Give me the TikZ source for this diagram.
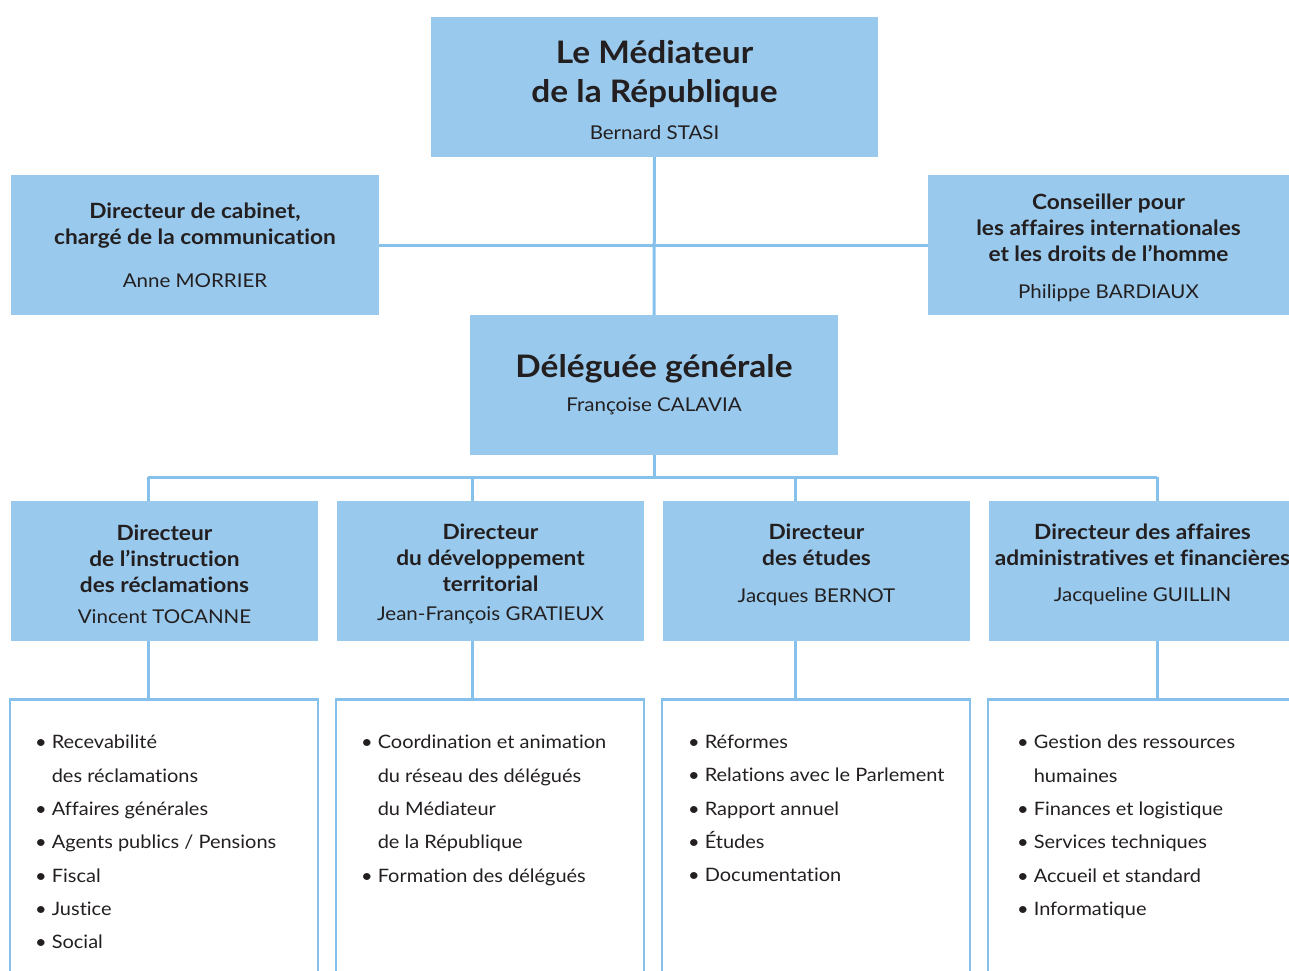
\documentclass[tikz,border=0pt]{standalone}
\usepackage{fontspec}
\setmainfont{Lato}[FakeStretch=1.08, Ligatures=CommonOff]
\definecolor{boxblue}{RGB}{153,202,237}
\definecolor{lineblue}{RGB}{134,193,236}
\definecolor{inkgrey}{RGB}{35,31,32}
\newcommand{\bigtitlefont}{\bfseries\fontsize{31}{39}\selectfont}
\newcommand{\titlefont}{\bfseries\fontsize{21}{26}\selectfont}
\newcommand{\namefont}{\mdseries\fontsize{19}{26}\selectfont}
\newcommand{\listfont}{\fontsize{18.5}{33.3}\selectfont}
\newcommand{\bul}{\textbullet\hspace{5pt}}
\newcommand{\cont}{\hphantom{\textbullet\hspace{5pt}}}
\newcommand{\lift}{\rule{0pt}{22pt}}

\begin{document}
\begin{tikzpicture}[x=1pt, y=-1pt,
		bluebox/.style={fill=boxblue, inner sep=0pt, align=center, text=inkgrey, minimum height=140pt},
		listbox/.style={draw=lineblue, line width=2.5pt, minimum width=308pt, minimum height=320pt, anchor=north, inner sep=0pt},
		listtext/.style={anchor=north west, align=left, text=inkgrey, inner sep=0pt, font=\listfont},
		link/.style={draw=lineblue, line width=3pt}]
			\clip (0,0) rectangle (1289,970);

			\draw (654.5, 87) 	node[bluebox, minimum width=447pt, font=\bigtitlefont] 	(med) 	{\rule{0pt}{29pt}Le Médiateur\\ de la République\\[-2pt] \namefont Bernard STASI};
			\draw (195, 245) 	node[bluebox, minimum width=368pt, font=\titlefont] 	(cab) 	{Directeur de cabinet,\\ chargé de la communication\\[17pt] \namefont Anne MORRIER};
			\draw (1108.5, 245) 	node[bluebox, minimum width=361pt, font=\titlefont] 	(cons) 	{\lift Conseiller pour\\ les affaires internationales\\ et les droits de l’homme\\[11pt] \namefont Philippe BARDIAUX};
			\draw (654, 385) 	node[bluebox, minimum width=368pt, font=\bigtitlefont] 	(deleg) 	{Déléguée générale\\[-5pt] \namefont Françoise CALAVIA};

			\draw (164.5, 571) 	node[bluebox, minimum width=307pt, font=\titlefont] 	(dir1) 	{\lift Directeur\\ de l’instruction\\ des réclamations\\[5pt] \namefont Vincent TOCANNE};
			\draw (490.5, 571) 	node[bluebox, minimum width=307pt, font=\titlefont] 	(dir2) 	{\lift Directeur\\ du développement\\ territorial\\[3pt] \namefont Jean-François GRATIEUX};
			\draw (816.5, 571) 	node[bluebox, minimum width=307pt, font=\titlefont, text depth=16pt] 	(dir3) 	{Directeur\\ des études\\[11pt] \namefont Jacques BERNOT};
			\draw (1142.5, 571) 	node[bluebox, minimum width=307pt, font=\titlefont, text depth=16pt] 	(dir4) 	{Directeur des affaires\\ administratives et financières\\[10pt] \namefont Jacqueline GUILLIN};

			\draw (164, 698) 	node[listbox] 	(lbox1) 	{};
			\draw (490, 698) 	node[listbox] 	(lbox2) 	{};
			\draw (816, 698) 	node[listbox] 	(lbox3) 	{};
			\draw (1142, 698) 	node[listbox] 	(lbox4) 	{};

			\draw (35, 735) 	node[listtext] 	(list1) 	{\bul Recevabilité\\ \cont des réclamations\\ \bul Affaires générales\\ \bul Agents publics / Pensions\\ \bul Fiscal\\ \bul Justice\\ \bul Social};
			\draw (361, 735) 	node[listtext] 	(list2) 	{\bul Coordination et animation\\ \cont du réseau des délégués\\ \cont du Médiateur\\ \cont de la République\\ \bul Formation des délégués};
			\draw (688, 735) 	node[listtext] 	(list3) 	{\bul Réformes\\ \bul Relations avec le Parlement\\ \bul Rapport annuel\\ \bul Études\\ \bul Documentation};
			\draw (1017, 735) 	node[listtext] 	(list4) 	{\bul Gestion des ressources\\ \cont humaines\\ \bul Finances et logistique\\ \bul Services techniques\\ \bul Accueil et standard\\ \bul Informatique};

			\coordinate (bus) at (654, 477);
			\coordinate (j1) at (148, 477);
			\coordinate (j2) at (472, 477);
			\coordinate (j3) at (795, 477);
			\coordinate (j4) at (1157, 477);

			\draw[link] (med) -- (deleg);
			\draw[link] (cab) -- (cons);
			\draw[link] (deleg) -- (bus);
			\draw[link] (j1) -- (j4);
			\foreach \i in {1,...,4} {
				\draw[link] (j\i) -- (j\i |- dir\i.north);
				\draw[link] (j\i |- dir\i.south) -- (j\i |- lbox\i.north);
			}
		\end{tikzpicture}
\end{document}
